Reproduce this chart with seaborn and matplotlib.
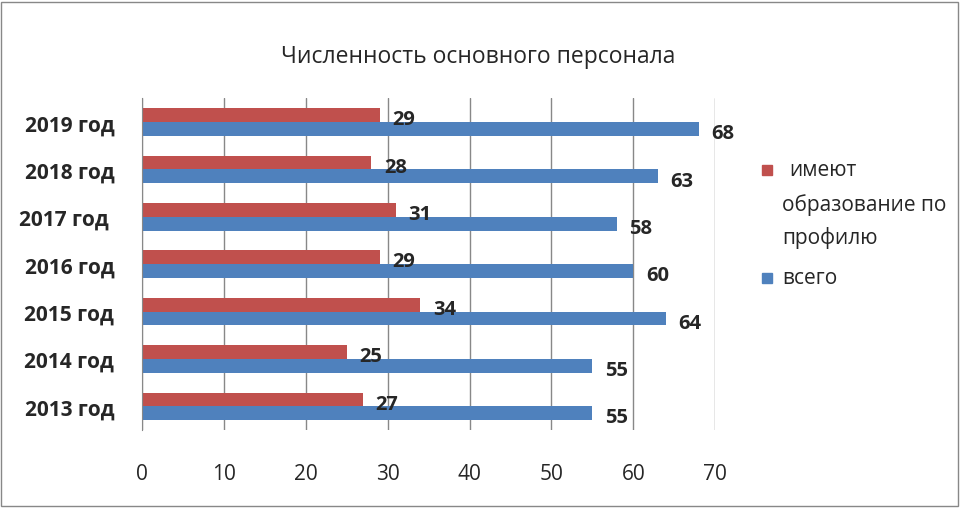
import matplotlib
matplotlib.use("Agg")
from matplotlib import pyplot as plt
import seaborn as sns
import pandas as pd

years = ["2019 год", "2018 год", "2017 год ", "2016 год", "2015 год", "2014 год", "2013 год"]
profile = [29, 28, 31, 29, 34, 25, 27]
total = [68, 63, 58, 60, 64, 55, 55]
series = ["имеют образование по профилю", "всего"]
colors = ["#c0504d", "#4f81bd"]

df = pd.DataFrame({
    "year": years * 2,
    "value": profile + total,
    "series": [series[0]] * len(years) + [series[1]] * len(years),
})

sns.set_style("white")
plt.rcParams["font.family"] = ["Open Sans", "DejaVu Sans"]

fig = plt.figure(figsize=(9.6, 5.1), dpi=100)
ax = fig.add_axes([0.148, 0.155, 0.597, 0.65])

sns.barplot(data=df, y="year", x="value", hue="series", order=years,
            hue_order=series, palette=colors, orient="h", width=0.58,
            saturation=1, legend=False, ax=ax, edgecolor="none")

# value labels, slightly lower than bar centre like the original
for cont in ax.containers:
    anns = ax.bar_label(cont, padding=9, fontsize=14.5, fontweight="bold")
    for a in anns:
        a.xyann = (a.xyann[0], -3)

ax.set_xlim(0, 70)
ax.set_xticks(range(0, 71, 10))
ax.xaxis.grid(True, color="#888888", linewidth=1)
ax.set_axisbelow(True)
ax.set_xlabel("")
ax.set_ylabel("")
for s in ["top", "right", "bottom"]:
    ax.spines[s].set_visible(False)
ax.spines["left"].set_color("#888888")
ax.tick_params(axis="x", length=8, color="#888888", pad=16, labelsize=15)
ax.tick_params(axis="y", length=0, pad=20, labelsize=15)
for t in ax.get_yticklabels():
    t.set_fontweight("bold")

fig.text(0.498, 0.888, "Численность основного персонала", ha="center",
         va="center", fontsize=16.5)

# legend drawn by hand: marker aligned with the first text line
lx, ly = 0.794, 0.665
sw, sh = 0.0105, 0.0198
fig.patches.append(plt.Rectangle((lx, ly - sh / 2), sw, sh, color=colors[0],
                                 transform=fig.transFigure))
fig.text(0.822, ly, "имеют", fontsize=15, va="center")
fig.text(0.815, ly - 0.068, "образование по", fontsize=15, va="center")
fig.text(0.815, ly - 0.131, "профилю", fontsize=15, va="center")
fig.patches.append(plt.Rectangle((lx, 0.453 - sh / 2), sw, sh, color=colors[1],
                                 transform=fig.transFigure))
fig.text(0.815, 0.453, "всего", fontsize=15, va="center")

fig.patches.append(plt.Rectangle((0.001, 0.005), 0.997, 0.99, transform=fig.transFigure,
                                 fill=False, edgecolor="#888888", linewidth=1))

fig.savefig("out.png", dpi=100)
